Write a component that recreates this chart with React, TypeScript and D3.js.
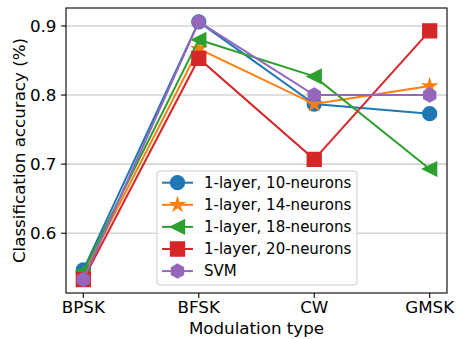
import React from "react"
import * as d3 from "d3"

const categories = ["BPSK", "BFSK", "CW", "GMSK"]
const seriesNames = [
  "1-layer, 10-neurons",
  "1-layer, 14-neurons",
  "1-layer, 18-neurons",
  "1-layer, 20-neurons",
  "SVM",
]
const acc10 = [0.547, 0.906, 0.787, 0.773]
const acc14 = [0.54, 0.867, 0.787, 0.813]
const acc18 = [0.545, 0.88, 0.827, 0.693]
const acc20 = [0.533, 0.853, 0.707, 0.893]
const accSvm = [0.533, 0.906, 0.8, 0.8]
const yTicks = [0.6, 0.7, 0.8, 0.9]

const colors = ["#1f77b4", "#ff7f0e", "#2ca02c", "#d62728", "#9467bd"]
const markers = ["circle", "star", "left", "square", "hexagon"]

const W = 456
const H = 339
const M = { left: 66, right: 447, top: 8, bottom: 293 }
const MS = 13.9 // marker size in px (matplotlib ms=10)
const FONT = "DejaVu Sans, sans-serif"

// matplotlib-like marker outlines, centred on 0,0
function markerPath(kind: string, s: number) {
  const r = s / 2
  const poly = (pts: [number, number][]) =>
    "M" + pts.map(p => p[0].toFixed(2) + "," + p[1].toFixed(2)).join("L") + "Z"
  if (kind === "circle") {
    return d3.symbol(d3.symbolCircle, Math.PI * r * r)() as string
  }
  if (kind === "square") {
    return poly([[-r, -r], [r, -r], [r, r], [-r, r]])
  }
  if (kind === "left") {
    return poly([[-r, 0], [r, -r], [r, r]])
  }
  if (kind === "star") {
    const pts: [number, number][] = []
    for (let i = 0; i < 10; i++) {
      const a = -Math.PI / 2 + (i * Math.PI) / 5
      const rr = i % 2 === 0 ? r : r * 0.381966
      pts.push([rr * Math.cos(a), rr * Math.sin(a)])
    }
    return poly(pts)
  }
  // hexagon, point up
  const pts: [number, number][] = []
  for (let i = 0; i < 6; i++) {
    const a = -Math.PI / 2 + (i * Math.PI) / 3
    pts.push([r * Math.cos(a), r * Math.sin(a)])
  }
  return poly(pts)
}

export default function App() {
  const series = [acc10, acc14, acc18, acc20, accSvm]

  const x = d3.scalePoint<string>()
    .domain(categories)
    .range([M.left, M.right])
    .padding(0.15)
  const y = d3.scaleLinear()
    .domain([0.5135, 0.926])
    .range([M.bottom, M.top])

  const line = d3.line<number>()
    .x((d, i) => x(categories[i]) as number)
    .y(d => y(d))

  const legend = { x: 157, y: 171, w: 200, h: 114, row: 22.1, first: 182.7 }

  return (
    <svg width={W} height={H} style={{ position: "absolute", left: 0, top: 0, background: "#fff" }}
      fontFamily={FONT}>
      {/* grid */}
      {yTicks.map(t => (
        <line key={"g" + t} x1={M.left} x2={M.right} y1={y(t)} y2={y(t)}
          stroke="#d3d3d3" strokeWidth={1.6} />
      ))}

      {/* series */}
      {series.map((vals, si) => (
        <g key={"s" + si}>
          <path d={line(vals) as string} fill="none" stroke={colors[si]} strokeWidth={2} />
          {vals.map((v, i) => (
            <path key={i} d={markerPath(markers[si], MS)}
              transform={`translate(${x(categories[i])},${y(v)})`}
              fill={colors[si]} stroke={colors[si]} strokeWidth={1.4} strokeLinejoin="miter" />
          ))}
        </g>
      ))}

      {/* frame */}
      <rect x={M.left} y={M.top} width={M.right - M.left} height={M.bottom - M.top}
        fill="none" stroke="#000" strokeWidth={1.1} />

      {/* y axis */}
      {yTicks.map(t => (
        <g key={"y" + t}>
          <line x1={M.left - 4.9} x2={M.left} y1={y(t)} y2={y(t)} stroke="#000" strokeWidth={1.1} />
          <text x={M.left - 9.5} y={y(t)} textAnchor="end" dominantBaseline="central"
            fontSize={16.7} fill="#000">{t.toFixed(1)}</text>
        </g>
      ))}

      {/* x axis */}
      {categories.map(c => (
        <g key={"x" + c}>
          <line x1={x(c)} x2={x(c)} y1={M.bottom} y2={M.bottom + 4.9} stroke="#000" strokeWidth={1.1} />
          <text x={x(c)} y={313.3} textAnchor="middle" fontSize={16.7} fill="#000">{c}</text>
        </g>
      ))}

      <text x={(M.left + M.right) / 2} y={334} textAnchor="middle" fontSize={16.7}>Modulation type</text>
      <text transform={`translate(19,${(M.top + M.bottom) / 2}) rotate(-90)`} textAnchor="middle"
        dominantBaseline="central" fontSize={16.7}>Classification accuracy (%)</text>

      {/* legend */}
      <rect x={legend.x} y={legend.y} width={legend.w} height={legend.h} rx={3}
        fill="#fff" fillOpacity={0.8} stroke="#cccccc" strokeWidth={1} />
      {seriesNames.map((name, si) => {
        const cy = legend.first + si * legend.row
        return (
          <g key={"l" + si}>
            <line x1={162} x2={193} y1={cy} y2={cy} stroke={colors[si]} strokeWidth={2} />
            <path d={markerPath(markers[si], MS)} transform={`translate(177.5,${cy})`}
              fill={colors[si]} stroke={colors[si]} strokeWidth={1.4} />
            <text x={204} y={cy} dominantBaseline="central" fontSize={15} fill="#000">{name}</text>
          </g>
        )
      })}
    </svg>
  )
}
